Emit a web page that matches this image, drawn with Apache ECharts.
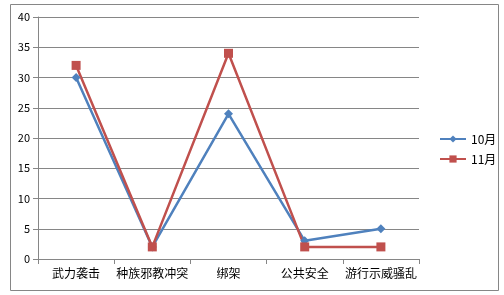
<!DOCTYPE html>
<html><head><meta charset="utf-8">
<script src="https://cdn.jsdelivr.net/npm/echarts@6/dist/echarts.min.js"></script>
<style>html,body{margin:0;padding:0;background:#fff;}#c{width:504px;height:295px;}</style>
</head><body><div id="c"></div>
<script>
var categories = ['武力袭击','种族邪教冲突','绑架','公共安全','游行示威骚乱'];
var oct = [30, 2, 24, 3, 5];
var nov = [32, 2, 34, 2, 2];
var yTicks = {min: 0, max: 40, interval: 5};
var font = '"Noto Sans CJK SC", "Liberation Sans", sans-serif';
var chart = echarts.init(document.getElementById('c'));
chart.setOption({
  animation: false,
  textStyle: {fontFamily: font},
  graphic: [{type: 'rect', shape: {x: 10.5, y: 4.5, width: 488, height: 286}, style: {fill: 'none', stroke: '#868686', lineWidth: 1}, silent: true}],
  grid: {left: 38, right: 85, top: 17, bottom: 36},
  legend: {
    orient: 'vertical', left: 434, top: 128, itemGap: 8, itemWidth: 26, itemHeight: 9,
    textStyle: {fontSize: 12, color: '#000', fontFamily: font},
    data: ['10月','11月']
  },
  xAxis: {
    type: 'category', data: categories, boundaryGap: true,
    axisLine: {lineStyle: {color: '#868686'}},
    axisTick: {show: true, length: 5, lineStyle: {color: '#868686'}},
    axisLabel: {color: '#000', fontSize: 12, margin: 8, interval: 0, fontFamily: font}
  },
  yAxis: {
    type: 'value', min: yTicks.min, max: yTicks.max, interval: yTicks.interval,
    axisLine: {show: true, lineStyle: {color: '#868686'}},
    axisTick: {show: true, length: 5, lineStyle: {color: '#868686'}},
    splitLine: {lineStyle: {color: '#868686'}},
    axisLabel: {color: '#000', fontSize: 11, margin: 8, fontFamily: font}
  },
  series: [
    {name: '10月', type: 'line', data: oct, symbol: 'diamond', symbolSize: 9,
     itemStyle: {color: '#4F81BD'}, lineStyle: {color: '#4F81BD', width: 2.5}},
    {name: '11月', type: 'line', data: nov, symbol: 'rect', symbolSize: 9,
     itemStyle: {color: '#C0504D'}, lineStyle: {color: '#C0504D', width: 2.5}}
  ]
});
</script></body></html>
